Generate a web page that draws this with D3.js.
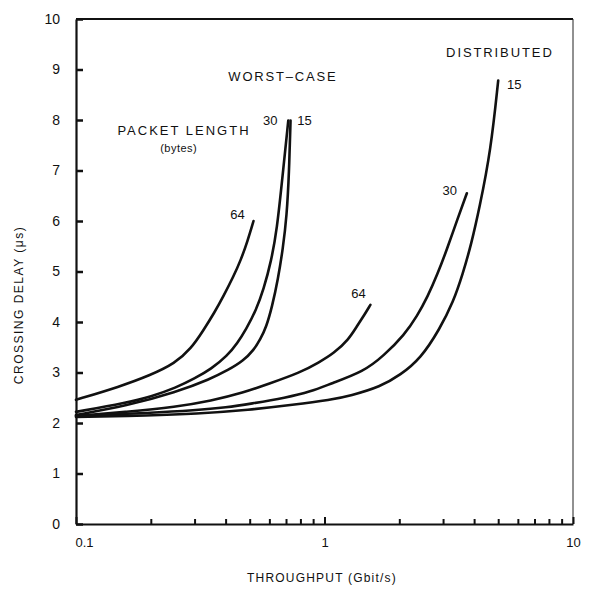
<!DOCTYPE html>
<html>
<head>
<meta charset="utf-8">
<script src="https://cdn.jsdelivr.net/npm/d3@7"></script>
<style>
	body { margin: 0; background: #fff; }
	svg text { font-family: "Liberation Sans", Arial, sans-serif; fill: #111; }
</style>
</head>
<body>
<div class="c-svg"></div>
<script>
//DATA
//-------------------------------------------------------------------------

const yTicks = [0, 1, 2, 3, 4, 5, 6, 7, 8, 9, 10];
const xMajor = [0.1, 1, 10];
const xMajorLabels = ["0.1", "1", "10"];
const xMinor = [0.2, 0.3, 0.4, 0.5, 0.6, 0.7, 0.8, 0.9, 2, 3, 4, 5, 6, 7, 8, 9];

//worst-case curves (throughput Gbit/s, delay µs)
const wc64x = [0.1, 0.15, 0.2, 0.25, 0.29, 0.325, 0.36, 0.393, 0.43, 0.46, 0.49, 0.518];
const wc64y = [2.46, 2.72, 2.95, 3.18, 3.47, 3.83, 4.18, 4.52, 4.9, 5.22, 5.6, 6.0];

const wc30x = [0.1, 0.16, 0.2, 0.253, 0.3, 0.35, 0.406, 0.446, 0.484, 0.53, 0.569, 0.61, 0.644, 0.675, 0.715];
const wc30y = [2.22, 2.4, 2.52, 2.7, 2.88, 3.07, 3.33, 3.58, 3.86, 4.23, 4.65, 5.2, 5.84, 6.8, 7.99];

const wc15x = [0.1, 0.16, 0.253, 0.347, 0.41, 0.471, 0.52, 0.552, 0.583, 0.615, 0.65, 0.68, 0.705, 0.72, 0.73];
const wc15y = [2.16, 2.34, 2.61, 2.87, 3.05, 3.23, 3.45, 3.66, 3.9, 4.3, 4.85, 5.45, 6.1, 6.95, 7.99];

//distributed curves
const d64x = [0.1, 0.16, 0.253, 0.35, 0.471, 0.6, 0.8, 0.95, 1.09, 1.25, 1.356, 1.45, 1.53];
const d64y = [2.14, 2.22, 2.32, 2.44, 2.6, 2.78, 3.0, 3.2, 3.38, 3.65, 3.93, 4.15, 4.34];

const d30x = [0.1, 0.2, 0.3, 0.406, 0.503, 0.7, 0.88, 1.06, 1.44, 1.73, 2.1, 2.36, 2.6, 2.85, 3.1, 3.43, 3.74];
const d30y = [2.14, 2.2, 2.25, 2.31, 2.38, 2.5, 2.62, 2.78, 3.02, 3.33, 3.75, 4.12, 4.5, 4.95, 5.42, 6.04, 6.55];

const d15x = [0.1, 0.2, 0.3, 0.5, 0.75, 1.06, 1.27, 1.68, 2.02, 2.44, 2.9, 3.3, 3.6, 3.9, 4.2, 4.67, 5.0];
const d15y = [2.12, 2.15, 2.18, 2.26, 2.36, 2.46, 2.54, 2.72, 2.95, 3.28, 3.85, 4.4, 4.95, 5.55, 6.25, 7.4, 8.78];

const seriesNames = ["64", "30", "15", "64", "30", "15"];
const seriesX = [wc64x, wc30x, wc15x, d64x, d30x, d15x];
const seriesY = [wc64y, wc30y, wc15y, d64y, d30y, d15y];
//label offset from curve end, in px
const labelDx = [-16, -18, 14, -12, -17, 16];
const labelDy = [-7, 0, 0, -11, -3, 4];

//opts for svg
const opts = {
	container: ".c-svg",
	width: 592,
	height: 589,
	margin: { top: 19, right: 19, bottom: 65, left: 76 }
};

const innerChart = {
	width: opts.width - opts.margin.left - opts.margin.right,
	height: opts.height - opts.margin.top - opts.margin.bottom
};

const svg = d3.select(opts.container)
	.append("svg")
	.attr("width", opts.width)
	.attr("height", opts.height);

const g = svg.append("g")
	.attr("transform", `translate(${opts.margin.left} ${opts.margin.top})`);

//SCALES
//-------------------------------------------------------------------------

const x = d3.scaleLog()
	.domain([0.1, 10])
	.range([0, innerChart.width]);

const y = d3.scaleLinear()
	.domain([0, 10])
	.range([innerChart.height, 0]);

//FRAME
//-------------------------------------------------------------------------

//top and right edges
g.append("line")
	.attr("x1", 0).attr("x2", innerChart.width)
	.attr("y1", 0).attr("y2", 0)
	.attr("stroke", "#111").attr("stroke-width", 2);

g.append("line")
	.attr("x1", innerChart.width).attr("x2", innerChart.width)
	.attr("y1", 0).attr("y2", innerChart.height)
	.attr("stroke", "#222").attr("stroke-width", 1);

//AXIS
//-------------------------------------------------------------------------

const yAxis = d3.axisLeft(y)
	.tickValues(yTicks)
	.tickSizeInner(-7)
	.tickSizeOuter(0)
	.tickPadding(16)
	.tickFormat(d3.format("d"));

const yg = g.append("g").attr("class", "axis y_axis").call(yAxis);
yg.select(".domain").attr("stroke", "#111").attr("stroke-width", 2.2);
yg.selectAll(".tick line").attr("stroke", "#111").attr("stroke-width", 2.5);
yg.selectAll(".tick text").attr("font-size", 14).attr("fill", "#111");

const xAxis = d3.axisBottom(x)
	.tickValues(xMajor)
	.tickSizeInner(-7)
	.tickSizeOuter(0)
	.tickPadding(14)
	.tickFormat((d, i) => xMajorLabels[i]);

const xg = g.append("g")
	.attr("class", "axis x_axis")
	.attr("transform", `translate(0 ${innerChart.height})`)
	.call(xAxis);
xg.select(".domain").attr("stroke", "#111").attr("stroke-width", 2.2);
xg.selectAll(".tick line").attr("stroke", "#111").attr("stroke-width", 2);
xg.selectAll(".tick text").attr("font-size", 13).attr("fill", "#111");
xg.selectAll(".tick text").filter((d) => d === 0.1).attr("text-anchor", "start").attr("dx", -1);

const xMinorAxis = d3.axisBottom(x)
	.tickValues(xMinor)
	.tickSizeInner(-5)
	.tickSizeOuter(0)
	.tickFormat("");

const xmg = g.append("g")
	.attr("transform", `translate(0 ${innerChart.height})`)
	.call(xMinorAxis);
xmg.select(".domain").remove();
xmg.selectAll(".tick line").attr("stroke", "#111").attr("stroke-width", 2);

//axis titles
svg.append("text")
	.attr("x", 322)
	.attr("y", 582)
	.attr("text-anchor", "middle")
	.attr("font-size", 12)
	.attr("letter-spacing", 1.2)
	.text("THROUGHPUT  (Gbit/s)");

svg.append("text")
	.attr("transform", "translate(23 305) rotate(-90)")
	.attr("text-anchor", "middle")
	.attr("font-size", 12)
	.attr("letter-spacing", 1.5)
	.text("CROSSING DELAY (\u03bcs)");

//CURVES
//-------------------------------------------------------------------------

const line = d3.line()
	.x((d) => x(d[0]))
	.y((d) => y(d[1]))
	.curve(d3.curveBasis);

seriesX.forEach((xs, i) => {
	const pts = xs.map((v, j) => [v, seriesY[i][j]]);
	g.append("path")
		.datum(pts)
		.attr("d", line)
		.attr("fill", "none")
		.attr("stroke", "#111")
		.attr("stroke-width", 2.6)
		.attr("stroke-linecap", "round");

	const last = pts[pts.length - 1];
	g.append("text")
		.attr("x", x(last[0]) + labelDx[i])
		.attr("y", y(last[1]) + labelDy[i])
		.attr("dy", "0.35em")
		.attr("text-anchor", "middle")
		.attr("font-size", 13)
		.text(seriesNames[i]);
});

//ANNOTATIONS
//-------------------------------------------------------------------------

const noteText = ["WORST\u2013CASE", "PACKET LENGTH", "(bytes)", "DISTRIBUTED"];
const noteX = [0.68, 0.272, 0.259, 5.08];
const noteY = [8.87, 7.8, 7.45, 9.33];
const noteSize = [13, 13, 11, 13];
const noteSpacing = [1.8, 2.0, 0.5, 1.9];

noteText.forEach((t, i) => {
	g.append("text")
		.attr("x", x(noteX[i]))
		.attr("y", y(noteY[i]))
		.attr("dy", "0.35em")
		.attr("text-anchor", "middle")
		.attr("font-size", noteSize[i])
		.attr("letter-spacing", noteSpacing[i])
		.text(t);
});
</script>
</body>
</html>
